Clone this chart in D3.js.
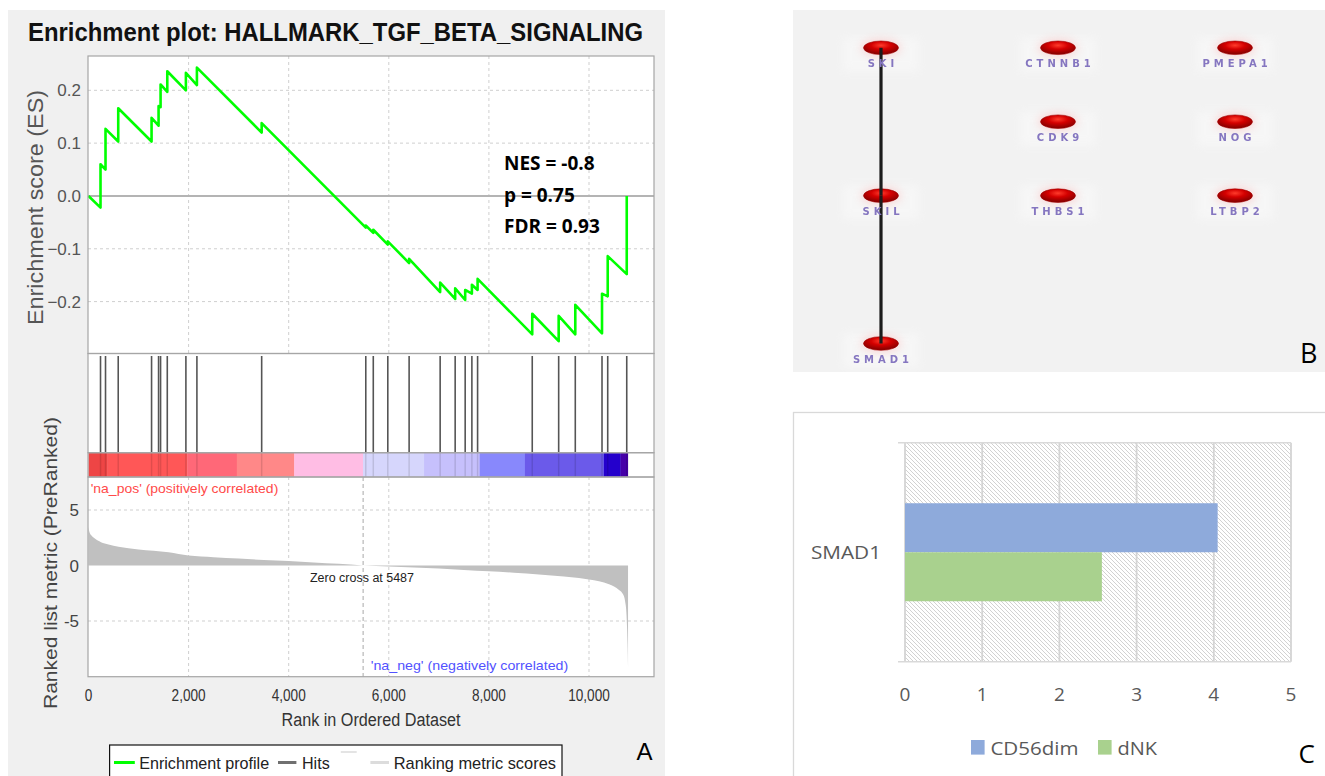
<!DOCTYPE html>
<html><head><meta charset="utf-8">
<script src="https://cdn.jsdelivr.net/npm/d3@7"></script>
<style>body{margin:0;background:#fff;} svg{display:block}</style>
</head><body>
<svg id="c" width="1325" height="776"></svg>
<script>
// ---------------- DATA ----------------
const titleText = "Enrichment plot: HALLMARK_TGF_BETA_SIGNALING";
const hitRanks = [240,340,594,1260,1400,1440,1574,1946,2166,3460,5540,5690,5980,6406,7026,7326,7526,7660,7774,8866,9394,9726,10260,10374,10754];
const esBefore = [-0.022,0.050,0.103,0.103,0.133,0.168,0.197,0.200,0.210,0.120,-0.060,-0.070,-0.092,-0.127,-0.182,-0.195,-0.197,-0.185,-0.178,-0.262,-0.275,-0.262,-0.260,-0.190,-0.148];
const esAfter  = [0.060,0.127,0.166,0.148,0.170,0.211,0.236,0.233,0.243,0.138,-0.056,-0.064,-0.086,-0.119,-0.164,-0.175,-0.178,-0.168,-0.157,-0.223,-0.227,-0.206,-0.185,-0.114,0.000];
const metricRanks  = [0,20,60,120,250,400,600,1000,1600,2000,2500,3000,3500,4000,4500,5000,5487,6000,6500,7000,7500,8000,8500,9000,9500,9800,10000,10200,10400,10500,10600,10680,10720,10750,10770,10780];
const metricValues = [3.5,3.0,2.7,2.45,2.1,1.9,1.7,1.45,1.2,0.9,0.75,0.62,0.5,0.4,0.28,0.15,0,-0.08,-0.18,-0.28,-0.4,-0.52,-0.65,-0.8,-0.98,-1.12,-1.25,-1.42,-1.7,-1.9,-2.2,-2.6,-3.2,-4.5,-7.0,-9.2];
const colorBarStarts = [0,380,1976,2964,4110,5486,6704,7816,8720,10298,10630];
const colorBarEnds   = [380,1976,2964,4110,5486,6704,7816,8720,10298,10630,10775];
const colorBarColors = ["#ee4545","#ff5757","#ff6878","#ff8888","#ffbde4","#d6d6fc","#c6c0fc","#8888fc","#6b5aea","#2400cc","#4600a8"];
const rankTicks = [0,2000,4000,6000,8000,10000];
const esTicks = [0.2,0.1,0.0,-0.1,-0.2];
const metricTicks = [5,0,-5];
const zeroCross = 5487;
const statLines = ["NES = -0.8","p = 0.75","FDR = 0.93"];
const legendLabels = ["Enrichment profile","Hits","Ranking metric scores"];

const nodeNames = ["SKI","CTNNB1","PMEPA1","CDK9","NOG","SKIL","THBS1","LTBP2","SMAD1"];
const nodeCols  = [0,1,2,1,2,0,1,2,0];
const nodeRows  = [0,0,0,1,1,2,2,2,4];
const edgeSources = ["SKI","SKIL"];
const edgeTargets = ["SKIL","SMAD1"];

const barCategories = ["SMAD1"];
const seriesNames = ["CD56dim","dNK"];
const seriesValues = [[4.05],[2.55]];
const barTicks = [0,1,2,3,4,5];

// ---------------- HELPERS ----------------
const svg = d3.select("#c");
const GF = "'Liberation Sans', Arial, sans-serif";
function condense(sel, ratio){
  sel.each(function(){
    const l = this.getComputedTextLength();
    d3.select(this).attr("textLength", l*ratio).attr("lengthAdjust","spacingAndGlyphs");
  });
}
function fitW(sel, w){ sel.attr("textLength", w).attr("lengthAdjust","spacingAndGlyphs"); }

const defs = svg.append("defs");

// ================= PANEL A (GSEA) =================
const A = svg.append("g");
A.append("rect").attr("x",8).attr("y",10).attr("width",657).attr("height",766).attr("fill","#f0f0f0");

const x = d3.scaleLinear().domain([0,10000]).range([88.5,589]);
const yES = d3.scaleLinear().domain([-0.2,0.2]).range([301.6,90.3]);
const yM = d3.scaleLinear().domain([-5,5]).range([621,510]);
const PL = 88, PR = 654;
const esTop = 56, esBot = 353.5, hitBot = 452.7, cbBot = 477, rkBot = 676.7;

// title
A.append("text").attr("x",335.5).attr("y",41).attr("text-anchor","middle")
 .attr("font-family",GF).attr("font-weight","bold").attr("font-size",26).attr("fill","#111")
 .text(titleText).call(fitW,615);

// plot backgrounds
A.append("rect").attr("x",PL).attr("y",esTop).attr("width",PR-PL).attr("height",rkBot-esTop).attr("fill","#fff");

// ES gridlines
const gES = A.append("g");
gES.selectAll("line.v").data(rankTicks.filter(d=>d>0)).join("line")
  .attr("x1",d=>x(d)).attr("x2",d=>x(d)).attr("y1",esTop).attr("y2",esBot)
  .attr("stroke","#cfcfcf").attr("stroke-dasharray","3,3");
gES.selectAll("line.h").data(esTicks.filter(d=>d!==0)).join("line")
  .attr("x1",PL).attr("x2",PR).attr("y1",d=>yES(d)).attr("y2",d=>yES(d))
  .attr("stroke","#cfcfcf").attr("stroke-dasharray","3,3");
A.append("line").attr("x1",PL).attr("x2",PR).attr("y1",yES(0)).attr("y2",yES(0))
  .attr("stroke","#b4b4b4").attr("stroke-width",2);

// ES curve
const esPts = [[0,0]];
hitRanks.forEach((r,i)=>{ esPts.push([r,esBefore[i]]); esPts.push([r,esAfter[i]]); });
A.append("path").datum(esPts)
  .attr("d", d3.line().x(d=>x(d[0])).y(d=>yES(d[1])))
  .attr("fill","none").attr("stroke","#00ff00").attr("stroke-width",2.6).attr("stroke-linejoin","round");

// stats
statLines.forEach((s,i)=>{
  A.append("text").attr("x",504).attr("y",170+i*31.7)
   .attr("font-family","'Open Sans', sans-serif").attr("font-weight","bold").attr("font-size",19).attr("fill","#000")
   .text(s);
});

// hits
A.selectAll("line.hit").data(hitRanks).join("line")
  .attr("x1",d=>x(d)).attr("x2",d=>x(d)).attr("y1",356).attr("y2",hitBot)
  .attr("stroke","#555").attr("stroke-width",1.6);

// color bar
A.selectAll("rect.cb").data(colorBarStarts).join("rect")
  .attr("x",d=>x(d)).attr("width",(d,i)=>x(colorBarEnds[i])-x(d)+0.3)
  .attr("y",hitBot).attr("height",cbBot-hitBot)
  .attr("fill",(d,i)=>colorBarColors[i]);
A.selectAll("line.hitcb").data(hitRanks).join("line")
  .attr("x1",d=>x(d)).attr("x2",d=>x(d)).attr("y1",hitBot).attr("y2",cbBot)
  .attr("stroke","#000").attr("stroke-opacity",0.12).attr("stroke-width",1.5);

// ranked gridlines
A.selectAll("line.rv").data(rankTicks.filter(d=>d>0)).join("line")
  .attr("x1",d=>x(d)).attr("x2",d=>x(d)).attr("y1",cbBot).attr("y2",rkBot)
  .attr("stroke","#cfcfcf").attr("stroke-dasharray","3,3");
A.selectAll("line.rh").data(metricTicks.filter(d=>d!==0)).join("line")
  .attr("x1",PL).attr("x2",PR).attr("y1",d=>yM(d)).attr("y2",d=>yM(d))
  .attr("stroke","#cfcfcf").attr("stroke-dasharray","3,3");

// metric area
A.append("path").datum(metricRanks.map((r,i)=>[r,metricValues[i]]))
  .attr("d", d3.area().x(d=>x(d[0])).y0(yM(0)).y1(d=>yM(d[1])).curve(d3.curveMonotoneX))
  .attr("fill","#c0c0c0");

// zero cross line
A.append("line").attr("x1",x(zeroCross)).attr("x2",x(zeroCross)).attr("y1",cbBot).attr("y2",rkBot)
  .attr("stroke","#a8a8a8").attr("stroke-dasharray","4,3");
A.append("text").attr("x",310).attr("y",581.5).attr("font-family",GF).attr("font-size",12.5).attr("fill","#222")
  .text("Zero cross at " + zeroCross).call(fitW,104);
A.append("text").attr("x",90.7).attr("y",492.7).attr("font-family",GF).attr("font-size",13.5).attr("fill","#ff4a4a")
  .text("'na_pos' (positively correlated)").call(fitW,187.6);
A.append("text").attr("x",370.7).attr("y",670).attr("font-family",GF).attr("font-size",13.5).attr("fill","#5252ff")
  .text("'na_neg' (negatively correlated)").call(fitW,197.6);

// frames
const frameC = "#a6a6a6";
[[esTop,esBot],[esBot,hitBot],[hitBot,cbBot],[cbBot,rkBot]].forEach(([a,b])=>{
  A.append("rect").attr("x",PL).attr("y",a).attr("width",PR-PL).attr("height",b-a)
   .attr("fill","none").attr("stroke",frameC).attr("stroke-width",1.2);
});

// y ticks ES
A.selectAll("text.yes").data(esTicks).join("text")
  .attr("x",81).attr("y",d=>yES(d)+6).attr("text-anchor","end")
  .attr("font-family",GF).attr("font-size",17).attr("fill","#555")
  .text(d3.format(".1f"));
A.selectAll("text.ym").data(metricTicks).join("text")
  .attr("x",79).attr("y",d=>yM(d)+6).attr("text-anchor","end")
  .attr("font-family",GF).attr("font-size",17).attr("fill","#444")
  .text(d=>d);
// x ticks
A.selectAll("text.xt").data(rankTicks).join("text")
  .attr("x",d=>x(d)).attr("y",701).attr("text-anchor","middle")
  .attr("font-family",GF).attr("font-size",17).attr("fill","#333")
  .text(d3.format(",")).call(condense,0.8);

// axis titles
A.append("text").attr("transform","translate(43,207.5) rotate(-90)").attr("text-anchor","middle")
  .attr("font-family",GF).attr("font-size",22).attr("fill","#555")
  .text("Enrichment score (ES)").call(fitW,235);
A.append("text").attr("transform","translate(57,563) rotate(-90)").attr("text-anchor","middle")
  .attr("font-family",GF).attr("font-size",19).attr("fill","#444")
  .text("Ranked list metric (PreRanked)").call(fitW,292);
A.append("text").attr("x",371).attr("y",726).attr("text-anchor","middle")
  .attr("font-family",GF).attr("font-size",18).attr("fill","#333")
  .text("Rank in Ordered Dataset").call(fitW,179);

// legend
A.append("rect").attr("x",109.6).attr("y",745).attr("width",452.4).attr("height",40)
  .attr("fill","#fff").attr("stroke","#111").attr("stroke-width",1.2);
const legY = 762.5;
A.append("line").attr("x1",114).attr("x2",134.8).attr("y1",legY).attr("y2",legY).attr("stroke","#00ff00").attr("stroke-width",3);
A.append("line").attr("x1",278).attr("x2",296.4).attr("y1",legY).attr("y2",legY).attr("stroke","#707070").attr("stroke-width",3);
A.append("line").attr("x1",340.8).attr("x2",356.7).attr("y1",752).attr("y2",752).attr("stroke","#e4e4e4").attr("stroke-width",2);
A.append("line").attr("x1",370.4).attr("x2",389).attr("y1",legY).attr("y2",legY).attr("stroke","#dcdcdc").attr("stroke-width",3);
const legX = [139.2,302,393.7], legW = [130,27.7,162.3];
legendLabels.forEach((s,i)=>{
  A.append("text").attr("x",legX[i]).attr("y",768.5).attr("font-family",GF).attr("font-size",17).attr("fill","#222")
   .text(s).call(fitW,legW[i]);
});
A.append("text").attr("x",636.5).attr("y",759.5).attr("font-family",GF).attr("font-size",24).attr("fill","#000").text("A");

// ================= PANEL B (network) =================
const B = svg.append("g");
B.append("rect").attr("x",793).attr("y",10).attr("width",532).attr("height",362).attr("fill","#f2f2f2");
const colX = d3.scaleLinear().domain([0,2]).range([881,1235]);
const rowY = d3.scaleLinear().domain([0,4]).range([47.8,343.5]);
const rg = defs.append("radialGradient").attr("id","nodeG").attr("cx","50%").attr("cy","32%").attr("r","62%");
rg.append("stop").attr("offset","0%").attr("stop-color","#ff3b2b");
rg.append("stop").attr("offset","45%").attr("stop-color","#d40000");
rg.append("stop").attr("offset","100%").attr("stop-color","#8a0000");
const blur = defs.append("filter").attr("id","soft").attr("x","-20%").attr("y","-50%").attr("width","140%").attr("height","200%");
blur.append("feGaussianBlur").attr("stdDeviation",0.55);
const glow = defs.append("filter").attr("id","glow").attr("x","-50%").attr("y","-80%").attr("width","200%").attr("height","260%");
glow.append("feGaussianBlur").attr("stdDeviation",4);

const nodes = nodeNames.map((n,i)=>({name:n, x:colX(nodeCols[i]), y:rowY(nodeRows[i])}));
const byName = Object.fromEntries(nodes.map(d=>[d.name,d]));
B.selectAll("rect.halo").data(nodes).join("rect")
  .attr("x",d=>d.x-38).attr("y",d=>d.y-10).attr("width",76).attr("height",34)
  .attr("fill","#ffffff").attr("opacity",0.35).attr("filter","url(#glow)");
B.selectAll("ellipse.glow").data(nodes).join("ellipse")
  .attr("cx",d=>d.x).attr("cy",d=>d.y).attr("rx",20).attr("ry",9)
  .attr("fill","#ff9090").attr("opacity",0.3).attr("filter","url(#glow)");
B.selectAll("ellipse.node").data(nodes).join("ellipse")
  .attr("cx",d=>d.x).attr("cy",d=>d.y).attr("rx",17.5).attr("ry",6.8)
  .attr("fill","url(#nodeG)").attr("stroke","#a00000").attr("stroke-width",0.6);
B.selectAll("line.edge").data(edgeSources.map((s,i)=>[byName[s],byName[edgeTargets[i]]])).join("line")
  .attr("x1",d=>d[0].x).attr("y1",d=>d[0].y).attr("x2",d=>d[1].x).attr("y2",d=>d[1].y)
  .attr("stroke","#1c1c1c").attr("stroke-width",3.2);
B.selectAll("text.lab").data(nodes).join("text")
  .attr("x",d=>d.x+2).attr("y",d=>d.y+19.5).attr("text-anchor","middle")
  .attr("font-family","'DejaVu Sans', sans-serif").attr("font-weight","bold").attr("font-size",10).attr("letter-spacing",4)
  .attr("fill","#8576c0").attr("filter","url(#soft)")
  .text(d=>d.name);
B.append("text").attr("x",1300).attr("y",363).attr("font-family","'Open Sans', sans-serif").attr("font-size",27).attr("fill","#000").text("B");

// ================= PANEL C (bars) =================
const C = svg.append("g");
C.append("rect").attr("x",793.5).attr("y",412.5).attr("width",540).attr("height",380)
  .attr("fill","#fff").attr("stroke","#d9d9d9").attr("stroke-width",1.3);
const pat = defs.append("pattern").attr("id","hatch").attr("patternUnits","userSpaceOnUse").attr("width",4).attr("height",4);
pat.append("rect").attr("width",4).attr("height",4).attr("fill","#fff");
pat.append("path").attr("d","M-1,-1L5,5M-1,3L1,5M3,-1L5,1").attr("stroke","#cacaca").attr("stroke-width",0.85);

const xb = d3.scaleLinear().domain([0,5]).range([905,1291]);
const yb = d3.scaleBand().domain(barCategories).range([442.8,661.7]).paddingInner(0).paddingOuter(0.617);
const ys = d3.scaleBand().domain(seriesNames).range([0,yb.bandwidth()]);
const seriesColors = ["#8eaadb","#a9d18e"];
C.append("rect").attr("x",xb(0)).attr("y",442.8).attr("width",xb(5)-xb(0)).attr("height",661.7-442.8).attr("fill","url(#hatch)");
C.selectAll("line.g").data(barTicks).join("line")
  .attr("x1",d=>xb(d)).attr("x2",d=>xb(d)).attr("y1",442.8).attr("y2",661.7)
  .attr("stroke","#d4d4d4").attr("stroke-width",1.8);
C.selectAll("line.hb").data([442.8,661.7]).join("line")
  .attr("x1",898).attr("x2",xb(5)).attr("y1",d=>d).attr("y2",d=>d)
  .attr("stroke","#d9d9d9").attr("stroke-width",1.5);
seriesNames.forEach((s,si)=>{
  C.selectAll("rect.s"+si).data(barCategories).join("rect")
    .attr("x",xb(0)).attr("y",c=>yb(c)+ys(s))
    .attr("width",(c,ci)=>xb(seriesValues[si][ci])-xb(0)).attr("height",ys.bandwidth())
    .attr("fill",seriesColors[si]);
});
const CF = "'Open Sans', sans-serif";
C.selectAll("text.cat").data(barCategories).join("text")
  .attr("x",881).attr("y",c=>yb(c)+yb.bandwidth()/2+6.5).attr("text-anchor","end")
  .attr("font-family",CF).attr("font-size",19).attr("fill","#595959").text(c=>c).call(fitW,70);
C.selectAll("text.bt").data(barTicks).join("text")
  .attr("x",d=>xb(d)).attr("y",700.5).attr("text-anchor","middle")
  .attr("font-family",CF).attr("font-size",19).attr("fill","#595959").text(d=>d);
const lgX = [971,1098], lgTW = [88,39.6];
seriesNames.forEach((s,i)=>{
  C.append("rect").attr("x",lgX[i]).attr("y",740).attr("width",13.6).attr("height",14.6).attr("fill",seriesColors[i]);
  C.append("text").attr("x",lgX[i]+19.4).attr("y",754.6).attr("font-family",CF).attr("font-size",19)
    .attr("fill","#595959").text(s).call(fitW,lgTW[i]);
});
C.append("text").attr("x",1298.5).attr("y",763).attr("font-family",CF).attr("font-size",26).attr("fill","#000").text("C");
</script>
</body></html>
